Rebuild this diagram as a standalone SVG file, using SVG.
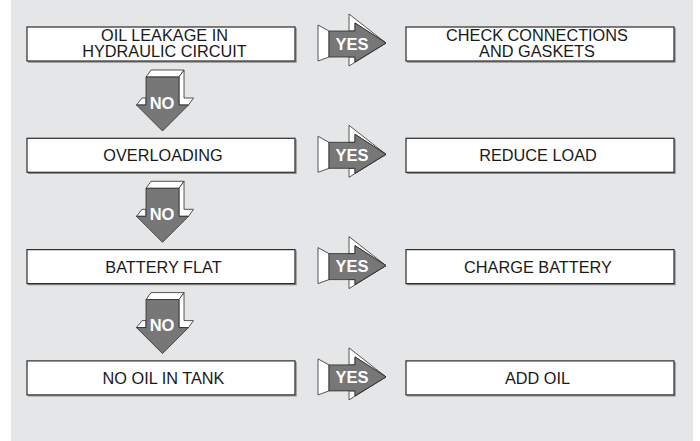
<svg xmlns="http://www.w3.org/2000/svg" width="700" height="441" viewBox="0 0 700 441">
  <defs>
    <style>
      .panel { fill: #e5e6e7; }
      .box { fill: #ffffff; stroke: #2b2b2b; stroke-width: 1.2; }
      .shadow { fill: none; stroke: #8c8c8c; stroke-width: 1.4; }
      .lbl { font-family: "Liberation Sans", Arial, sans-serif; font-size: 16.3px; fill: #1a1a1a; text-anchor: middle; }
      .face { fill: #ffffff; stroke: #2b2b2b; stroke-width: 0.8; stroke-linejoin: round; }
      .front { fill: #777777; stroke: #2b2b2b; stroke-width: 0.8; stroke-linejoin: round; }
      .tag { font-family: "Liberation Sans", Arial, sans-serif; font-weight: bold; font-size: 16.5px; fill: #ffffff; text-anchor: middle; }
    </style>
    <!-- yes arrow pointing right, drawn for a row centred on y=44 -->
    <g id="yesArrow">
      <polygon class="face" points="318,25 329,31 329,57 318,61"/>
      <polygon class="face" points="349,14 386,43 355,23 355,31 349,31"/>
      <polygon class="face" points="349,57 355,57 355,62 386,43 349,66"/>
      <polygon class="front" points="329,31 355,31 355,23 386,43 355,62 355,57 329,57"/>
      <text class="tag" x="352" y="49.5">YES</text>
    </g>
    <!-- no arrow pointing down, drawn below the first row -->
    <g id="noArrow">
      <polygon class="face" points="146,77 151,70 184,70 179,77"/>
      <polygon class="face" points="179,77 184,70 184,98 193.5,98 188.5,105 179,105"/>
      <polygon class="face" points="136.5,105 142,98 146,98 146,105"/>
      <polygon class="front" points="146,77 179,77 179,105 188.5,105 162.5,131 136.5,105 146,105"/>
      <text class="tag" x="162" y="108.5">NO</text>
    </g>
  </defs>

  <rect class="panel" x="11" y="0" width="682" height="441"/>

  <!-- connectors: NO arrows between questions, YES arrows to remedies -->
  <g id="connectors">
    <use href="#noArrow"/>
    <use href="#noArrow" transform="translate(0,111.3)"/>
    <use href="#noArrow" transform="translate(0,222.6)"/>
    <use href="#yesArrow"/>
    <use href="#yesArrow" transform="translate(0,111.3)"/>
    <use href="#yesArrow" transform="translate(0,222.6)"/>
    <use href="#yesArrow" transform="translate(0,333.9)"/>
  </g>

  <g id="q1">
    <polyline class="shadow" points="296,28 296,62 28,62"/>
    <rect class="box" x="27" y="27" width="268" height="34"/>
    <text class="lbl" x="164.5" y="41">OIL LEAKAGE IN</text>
    <text class="lbl" x="164.5" y="56.5">HYDRAULIC CIRCUIT</text>
  </g>
  <g id="a1">
    <polyline class="shadow" points="675,28 675,62 407,62"/>
    <rect class="box" x="406" y="27" width="268" height="34"/>
    <text class="lbl" x="537" y="41">CHECK CONNECTIONS</text>
    <text class="lbl" x="537" y="56.5">AND GASKETS</text>
  </g>

  <g id="q2" transform="translate(0,111.3)">
    <polyline class="shadow" points="296,28 296,62 28,62"/>
    <rect class="box" x="27" y="27" width="268" height="34"/>
    <text class="lbl" x="163" y="50">OVERLOADING</text>
  </g>
  <g id="a2" transform="translate(0,111.3)">
    <polyline class="shadow" points="675,28 675,62 407,62"/>
    <rect class="box" x="406" y="27" width="268" height="34"/>
    <text class="lbl" x="538" y="50">REDUCE LOAD</text>
  </g>

  <g id="q3" transform="translate(0,222.6)">
    <polyline class="shadow" points="296,28 296,62 28,62"/>
    <rect class="box" x="27" y="27" width="268" height="34"/>
    <text class="lbl" x="163.5" y="50">BATTERY FLAT</text>
  </g>
  <g id="a3" transform="translate(0,222.6)">
    <polyline class="shadow" points="675,28 675,62 407,62"/>
    <rect class="box" x="406" y="27" width="268" height="34"/>
    <text class="lbl" x="538" y="50">CHARGE BATTERY</text>
  </g>

  <g id="q4" transform="translate(0,333.9)">
    <polyline class="shadow" points="296,28 296,62 28,62"/>
    <rect class="box" x="27" y="27" width="268" height="34"/>
    <text class="lbl" x="163.5" y="50">NO OIL IN TANK</text>
  </g>
  <g id="a4" transform="translate(0,333.9)">
    <polyline class="shadow" points="675,28 675,62 407,62"/>
    <rect class="box" x="406" y="27" width="268" height="34"/>
    <text class="lbl" x="537.5" y="50">ADD OIL</text>
  </g>
</svg>
